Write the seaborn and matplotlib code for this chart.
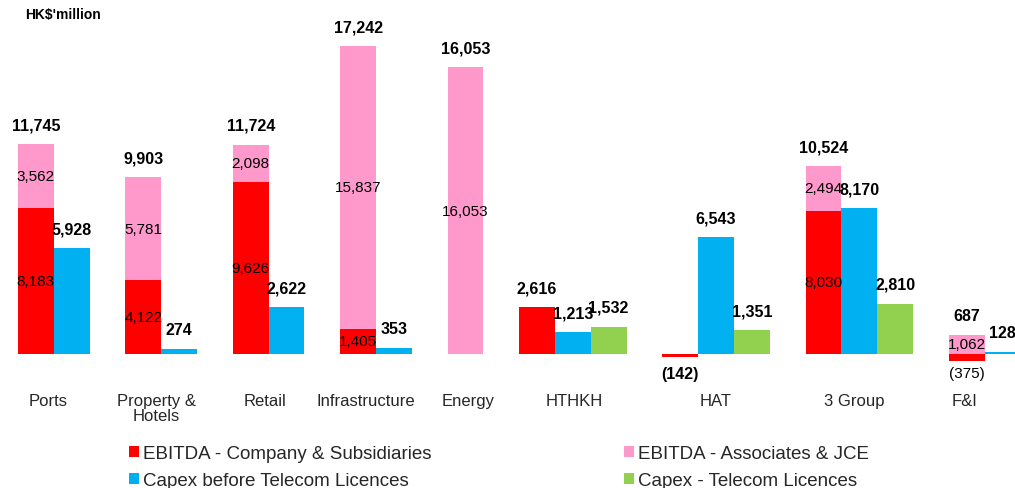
import matplotlib
matplotlib.use("Agg")
import matplotlib.pyplot as plt
from matplotlib.patches import Patch
import pandas as pd
import seaborn as sns

# ---- data (HK$ million) ----
categories = ["Ports", "Property &\nHotels", "Retail", "Infrastructure", "Energy",
              "HTHKH", "HAT", "3 Group", "F&I"]
ebitda_subsidiaries = [8183, 4122, 9626, 1405, 0, 2616, -142, 8030, -375]
ebitda_associates = [3562, 5781, 2098, 15837, 16053, 0, 0, 2494, 1062]
capex_before_licences = [5928, 274, 2622, 353, None, 1213, 6543, 8170, 128]
capex_licences = [None, None, None, None, None, 1532, 1351, 2810, None]

series_names = ["EBITDA - Company & Subsidiaries", "EBITDA - Associates & JCE",
                "Capex before Telecom Licences", "Capex - Telecom Licences"]
series_colors = ["#FF0000", "#FF99CC", "#00B0F0", "#92D050"]

# ---- style ----
sns.set_theme(style="white")
plt.rcParams["font.family"] = ["Liberation Sans", "DejaVu Sans"]

RED, PINK, BLUE, GREEN = series_names
palette = dict(zip(series_names, series_colors))


def fmt(v):
    return f"({abs(v):,.0f})" if v < 0 else f"{v:,.0f}"


# ---- slot layout: stacked EBITDA bar, then capex bars, then one empty slot ----
rows = []
stack_slots, group_centres = [], []
capex_slots, licence_slots = {}, {}
slot = 0
for i, cat in enumerate(categories):
    first = slot
    stack_slots.append(slot)
    red, pink = ebitda_subsidiaries[i], ebitda_associates[i]
    if pink:
        rows.append((slot, max(red, 0) + pink, PINK))
    if red:
        rows.append((slot, red, RED))
    slot += 1
    if capex_before_licences[i] is not None:
        capex_slots[i] = slot
        rows.append((slot, capex_before_licences[i], BLUE))
        slot += 1
    if capex_licences[i] is not None:
        licence_slots[i] = slot
        rows.append((slot, capex_licences[i], GREEN))
        slot += 1
    group_centres.append((first + slot - 1) / 2)
    slot += 1

df = pd.DataFrame(rows, columns=["slot", "value", "series"])

fig = plt.figure(figsize=(10.15, 4.89), dpi=100)
ax = fig.add_axes([0.0, 0.2025, 1.0, 0.7771])

sns.barplot(data=df, x="slot", y="value", hue="series",
            hue_order=[PINK, RED, BLUE, GREEN], palette=palette,
            native_scale=True, dodge=False, width=1.0, errorbar=None,
            saturation=1, linewidth=0, legend=False, ax=ax)

ax.set_xlim(-1.003, 27.35)
ax.set_ylim(-1959, 19313)
for s in ax.spines.values():
    s.set_visible(False)
ax.set_yticks([])
ax.set_xlabel("")
ax.set_ylabel("")

# category labels
label_shift = [-0.17, -0.14, -0.1, -0.28, 0.08, 0.03, 0.0, -0.13, -0.57]
ax.set_xticks([c + d for c, d in zip(group_centres, label_shift)])
ax.set_xticklabels(categories, fontsize=12, linespacing=1.0)
ax.tick_params(axis="x", length=0, pad=3)


def note(x, y, text, off, bold=True, size=11.5, va="bottom"):
    ax.annotate(text, (x, y), xytext=(0, off), textcoords="offset points",
                ha="center", va=va, fontsize=size,
                fontweight="bold" if bold else "normal", color="black",
                annotation_clip=False)


for i in range(len(categories)):
    x = stack_slots[i]
    red, pink = ebitda_subsidiaries[i], ebitda_associates[i]
    total = red + pink
    top = max(red, 0) + pink
    # total of the stacked EBITDA bar
    if total >= 0:
        note(x, top, fmt(total), 8.5)
    else:
        note(x, min(red, 0), fmt(total), -6.5, va="top")
    # segment values inside the stack
    if pink:
        note(x, max(red, 0) + pink / 2, fmt(pink), 0, bold=False, size=11, va="center")
        if red > 0:
            note(x, red / 2, fmt(red), 0, bold=False, size=11, va="center")
        elif red < 0:
            note(x, red, fmt(red), -4.0, bold=False, size=11, va="top")
    if i in capex_slots:
        note(capex_slots[i], capex_before_licences[i], fmt(capex_before_licences[i]), 8.5)
    if i in licence_slots:
        note(licence_slots[i], capex_licences[i], fmt(capex_licences[i]), 8.5)

# unit caption
fig.text(25 / 1015, 1 - 8 / 489, "HK$'million", ha="left", va="top",
         fontsize=10, fontweight="bold", color="black")

# legend
handles = [Patch(facecolor=palette[n], edgecolor="none", label=n)
           for n in [RED, BLUE, PINK, GREEN]]
fig.legend(handles=handles, ncol=2, loc="upper left",
           bbox_to_anchor=(129 / 1015, 1 - 446 / 489), frameon=False,
           fontsize=13.5, borderpad=0, borderaxespad=0, handlelength=0.53,
           handleheight=0.53, handletextpad=0.21, labelspacing=0.56,
           columnspacing=10.27)

fig.savefig("out.png", dpi=100)
